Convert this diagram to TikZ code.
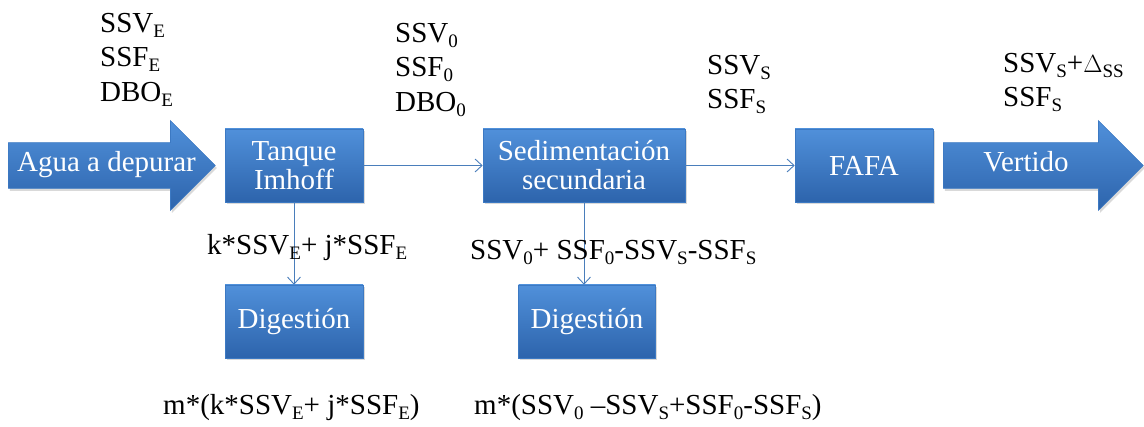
\documentclass[tikz,border=0pt]{standalone}
\usepackage{fontspec}
\setmainfont{Liberation Serif}
\usetikzlibrary{arrows.meta}
\usetikzlibrary{shapes.arrows}
\usetikzlibrary{shadows}

\definecolor{boxtop}{HTML}{5090DA}
\definecolor{boxbottom}{HTML}{2D64AC}
\definecolor{boxedge}{HTML}{3C79C3}
\definecolor{linkblue}{HTML}{4A7EBB}

% lowered small index, as the slides set it
\newcommand{\sbs}[1]{\raisebox{-5pt}{\fontsize{19}{19}\selectfont #1}}

\tikzset{
  stage/.style={rectangle, draw=boxedge, line width=0.6pt,
    top color=boxtop, bottom color=boxbottom, text=white,
    minimum height=73pt, inner sep=0pt, align=center,
    font=\fontsize{29}{29}\selectfont,
    drop shadow={shadow xshift=1.5pt, shadow yshift=-2.5pt, opacity=0.3}},
  bigarrow/.style={single arrow, single arrow head extend=22pt,
    single arrow tip angle=90, minimum width=89pt, anchor=tail,
    inner ysep=9.5pt, inner xsep=0pt, text height=20pt, text depth=6pt,
    draw=boxedge, line width=0.6pt,
    top color=boxtop, bottom color=boxbottom,
    drop shadow={shadow xshift=1.5pt, shadow yshift=-2.5pt, opacity=0.3}},
  arrowtext/.style={inner sep=0pt, anchor=base, text=white,
    font=\fontsize{29}{29}\selectfont},
  link/.style={draw=linkblue, line width=0.9pt,
    -{Straight Barb[length=7pt, width=13pt]}},
  lbl/.style={inner sep=0pt, anchor=north west, align=left,
    font=\fontsize{29}{34.5}\selectfont},
  term/.style={inner sep=0pt, anchor=base west,
    font=\fontsize{29}{34.5}\selectfont},
}

\begin{document}
\begin{tikzpicture}[x=1pt, y=-1pt]
    \useasboundingbox (0,0) rectangle (1144,427);

    % Main line
    \node[bigarrow, minimum height=207pt] (agua) at (8,165.5) {};
    \node[arrowtext] (aguatxt) at (106.5,172) {Agua a depurar};
    \node[stage, minimum width=138pt] (imhoff) at (294,165.5) {Tanque\\Imhoff};
    \node[stage, minimum width=202pt] (sedim) at (584,165.5) {Sedimentación\\secundaria};
    \node[stage, minimum width=138pt] (fafa) at (864,165.5) {FAFA};
    \node[bigarrow, minimum height=200pt] (vertido) at (943,165.5) {};
    \node[arrowtext] (vertidotxt) at (1026,172) {Vertido};

    % Sludge digestion
    \node[stage, minimum width=138pt] (dig1) at (294,321.5) {Digestión};
    \node[stage, minimum width=137pt] (dig2) at (587,321.5) {Digestión};

    % Connectors
    \draw[link] (imhoff) -- (sedim);
    \draw[link] (sedim) -- (fafa);
    \draw[link] (imhoff) -- (dig1);
    \draw[link] (sedim.south) -- (sedim.south |- dig2.north);

    % Stream labels
    \node[lbl] (inE) at (100,13) {SSV\sbs{E}\\SSF\sbs{E}\\DBO\sbs{E}};
    \node[lbl] (in0) at (395,23) {SSV\sbs{0}\\SSF\sbs{0}\\DBO\sbs{0}};
    \node[lbl] (outS) at (707,55) {SSV\sbs{S}\\SSF\sbs{S}};
    \node[lbl] (outV) at (1003,53) {SSV\sbs{S}+$\Delta$\sbs{SS}\\SSF\sbs{S}};

    % Sludge flows
    \node[term] (lodo1) at (207,255) {k*SSV\sbs{E}+ j*SSF\sbs{E}};
    \node[term] (lodo2) at (470,260) {SSV\sbs{0}+ SSF\sbs{0}-SSV\sbs{S}-SSF\sbs{S}};
    \node[term] (dig1out) at (163,415) {m*(k*SSV\sbs{E}+ j*SSF\sbs{E})};
    \node[term] (dig2out) at (474,415) {m*(SSV\sbs{0} --SSV\sbs{S}+SSF\sbs{0}-SSF\sbs{S})};
\end{tikzpicture}
\end{document}
